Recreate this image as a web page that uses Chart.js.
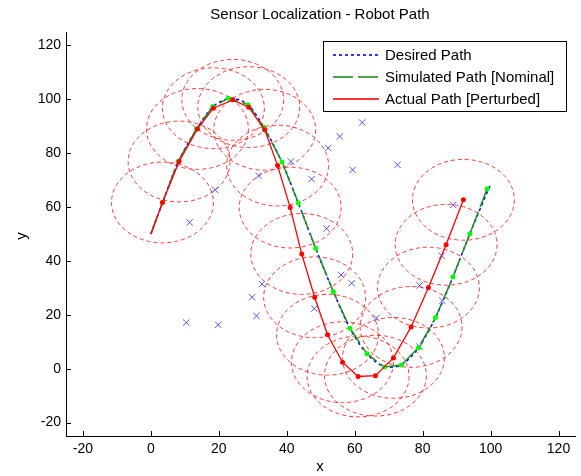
<!DOCTYPE html>
<html lang="en">
  <head>
    <meta charset="UTF-8" />
    <title>Sensor Localization - Robot Path</title>
    <script src="https://cdn.jsdelivr.net/npm/chart.js"></script>
    <style>
      html, body { margin: 0; padding: 0; background: #fff; }
      #pathChart { display: block; }
    </style>
  </head>
  <body>
    <canvas id="pathChart" width="581" height="476"></canvas>
    <script>
      // desired path (smooth reference)
      const desiredX = [0, 3.4, 8.1, 13.5, 18.3, 23.5, 28.6, 33.3, 38.6, 43.4, 48.5, 53.7, 58.6, 63.6, 68.7, 73.7, 78.8, 83.8, 88.9, 93.9, 100];
      const desiredY = [50, 61.5, 77, 89, 97.3, 100.4, 98, 89.5, 76.6, 61.5, 44.7, 28.6, 15, 5.5, 0.8, 1.4, 7.8, 19, 34, 50.1, 68.5];

      // simulated path, nominal
      const simX = [0, 3.4, 8.0, 13.4, 18.2, 22.8, 28.6, 33.3, 38.6, 43.4, 48.5, 53.7, 58.6, 63.6, 68.7, 73.7, 78.8, 83.8, 88.9, 93.9, 99.0];
      const simY = [50, 61.7, 76.9, 89.0, 97.3, 100.4, 98.0, 89.5, 76.7, 61.5, 44.7, 28.6, 15.0, 5.5, 0.6, 1.4, 7.8, 19.0, 34.0, 50.1, 66.8];

      // actual path, perturbed
      const actualX = [0, 3.4, 8.3, 13.7, 18.4, 24.1, 28.8, 33.5, 37.3, 41.0, 44.4, 48.2, 52.0, 56.4, 61.0, 66.1, 71.4, 76.6, 81.7, 86.9, 92.0];
      const actualY = [50, 61.7, 76.9, 89.0, 96.7, 99.8, 97.1, 88.7, 75.4, 59.8, 42.6, 26.5, 12.6, 2.4, -2.9, -2.6, 4.0, 15.5, 30.1, 46.0, 62.7];

      // sensor positions
      const sensorX = [62.2, 55.6, 52.2, 41.2, 72.6, 59.4, 31.7, 47.3, 18.9, 89.0, 11.4, 51.7, 85.6, 56.0, 59.1, 32.7, 79.1, 29.8, 85.8, 48.1, 31.1, 66.4, 10.4, 19.8, 79.1];
      const sensorY = [91.4, 86.2, 81.9, 76.9, 75.7, 73.8, 71.6, 70.4, 66.4, 60.8, 54.3, 52.0, 41.9, 34.8, 31.7, 31.4, 30.9, 26.5, 25.2, 22.3, 19.6, 18.8, 17.1, 16.3, 8.2];
      const sensorRange = 15;

      const xTicks = [-20, 0, 20, 40, 60, 80, 100, 120];
      const yTicks = [-20, 0, 20, 40, 60, 80, 100, 120];

      const legendLabels = ["Desired Path", "Simulated Path [Nominal]", "Actual Path [Perturbed]"];
      const legendColors = ["#0000ff", "#1f8f1f", "#ff0000"];
      const legendDash = [[3, 3], [20, 5], []];

      const font = "'Liberation Sans', Arial, sans-serif";

      const toPoints = (xs, ys) => xs.map((x, i) => ({ x: x, y: ys[i] }));

      // horizontal dashed sample built from small filled rects
      function sampleLine(ctx, x0, x1, y, dash, color) {
        ctx.fillStyle = color;
        ctx.globalAlpha = 0.8;
        if (!dash.length) {
          ctx.fillRect(x0, y, x1 - x0, 2);
        } else {
          let x = x0, k = 0;
          while (x < x1) {
            const len = dash[k % dash.length];
            if (k % 2 === 0) ctx.fillRect(x, y, Math.min(len, x1 - x), 2);
            x += len;
            k++;
          }
        }
        ctx.globalAlpha = 1;
      }

      const decor = {
        id: "decor",
        beforeDatasetsDraw(chart) {
          const { ctx, chartArea } = chart;
          const sx = chart.scales.x;
          const sy = chart.scales.y;
          ctx.save();
          ctx.beginPath();
          ctx.rect(chartArea.left, chartArea.top, chartArea.right - chartArea.left, chartArea.bottom - chartArea.top);
          ctx.clip();
          ctx.strokeStyle = "rgba(255, 20, 20, 0.85)";
          ctx.lineWidth = 1;
          ctx.setLineDash([4, 3]);
          for (let i = 1; i < actualX.length; i++) {
            const cx = sx.getPixelForValue(actualX[i]);
            const cy = sy.getPixelForValue(actualY[i]);
            const rx = Math.abs(sx.getPixelForValue(actualX[i] + sensorRange) - cx);
            const ry = Math.abs(sy.getPixelForValue(actualY[i] + sensorRange) - cy);
            ctx.beginPath();
            ctx.ellipse(cx, cy, rx, ry, 0, 0, Math.PI * 2);
            ctx.stroke();
          }
          ctx.restore();
        },
        afterDraw(chart) {
          const { ctx, chartArea } = chart;
          const sx = chart.scales.x;
          const sy = chart.scales.y;

          // legend box
          ctx.save();
          const lx = 323.5, ly = 41.5, lw = 243, lh = 70;
          ctx.fillStyle = "#fff";
          ctx.fillRect(lx, ly, lw, lh);
          ctx.strokeStyle = "#000";
          ctx.lineWidth = 1;
          ctx.strokeRect(lx, ly, lw, lh);
          ctx.font = "15px " + font;
          ctx.textAlign = "left";
          ctx.textBaseline = "middle";
          legendLabels.forEach((label, i) => {
            const y = 54 + i * 22;
            sampleLine(ctx, 333, 379, y, legendDash[i], legendColors[i]);
            ctx.fillStyle = "#000";
            ctx.fillText(label, 385, y + 1.5);
          });
          ctx.restore();

          // inward ticks
          ctx.save();
          ctx.strokeStyle = "#000";
          ctx.lineWidth = 1;
          ctx.beginPath();
          xTicks.forEach((v) => {
            const px = Math.round(sx.getPixelForValue(v)) + 0.5;
            ctx.moveTo(px, chartArea.bottom);
            ctx.lineTo(px, chartArea.bottom - 5);
          });
          yTicks.forEach((v) => {
            const py = Math.round(sy.getPixelForValue(v)) + 0.5;
            ctx.moveTo(chartArea.left, py);
            ctx.lineTo(chartArea.left + 5, py);
          });
          ctx.stroke();

          // title and axis labels
          ctx.fillStyle = "#000";
          ctx.font = "15px " + font;
          ctx.textAlign = "center";
          ctx.textBaseline = "middle";
          ctx.fillText("Sensor Localization - Robot Path", 320, 15);
          ctx.fillText("x", 320, 467);
          ctx.translate(22, 236);
          ctx.rotate(-Math.PI / 2);
          ctx.fillText("y", 0, 0);
          ctx.restore();
        },
      };

      new Chart(document.getElementById("pathChart"), {
        type: "scatter",
        data: {
          datasets: [
            {
              label: legendLabels[2],
              data: toPoints(actualX, actualY),
              showLine: true,
              borderColor: legendColors[2],
              backgroundColor: "#ff0000",
              borderWidth: 1.3,
              pointRadius: actualX.map((_, i) => (i === 0 ? 0 : 2.5)),
              pointBorderWidth: 0,
              order: 0,
            },
            {
              label: legendLabels[1],
              data: toPoints(simX, simY),
              showLine: true,
              borderColor: legendColors[1],
              borderDash: legendDash[1],
              backgroundColor: "#00ff00",
              borderWidth: 1.5,
              pointRadius: simX.map((_, i) => (i === 0 ? 0 : 2.5)),
              pointBorderWidth: 0,
              order: 1,
            },
            {
              label: legendLabels[0],
              data: toPoints(desiredX, desiredY),
              showLine: true,
              borderColor: legendColors[0],
              borderDash: legendDash[0],
              borderWidth: 1.5,
              pointRadius: 0,
              tension: 0.3,
              order: 2,
            },
            {
              label: "Sensors",
              data: toPoints(sensorX, sensorY),
              showLine: false,
              pointStyle: "crossRot",
              pointRadius: 4.5,
              borderColor: "rgba(50, 50, 255, 0.85)",
              borderWidth: 1,
              order: 3,
            },
          ],
        },
        options: {
          responsive: false,
          animation: false,
          devicePixelRatio: 1,
          layout: { padding: { top: 32, right: 3, left: 0, bottom: 0 } },
          plugins: {
            legend: { display: false },
            tooltip: { enabled: false },
            title: { display: false },
          },
          scales: {
            x: {
              type: "linear",
              min: -25,
              max: 125,
              afterBuildTicks: (s) => { s.ticks = xTicks.map((v) => ({ value: v })); },
              afterFit: (s) => { s.height = 40; },
              grid: { display: false, drawTicks: false },
              border: { display: true, color: "#000", width: 1 },
              ticks: { color: "#000", font: { family: font, size: 14 }, padding: 5, maxRotation: 0 },
            },
            y: {
              type: "linear",
              min: -25,
              max: 125,
              afterBuildTicks: (s) => { s.ticks = yTicks.map((v) => ({ value: v })); },
              afterFit: (s) => { s.width = 66; },
              grid: { display: false, drawTicks: false },
              border: { display: true, color: "#000", width: 1 },
              ticks: { color: "#000", font: { family: font, size: 14 }, padding: 5 },
            },
          },
        },
        plugins: [decor],
      });
    </script>
  </body>
</html>
